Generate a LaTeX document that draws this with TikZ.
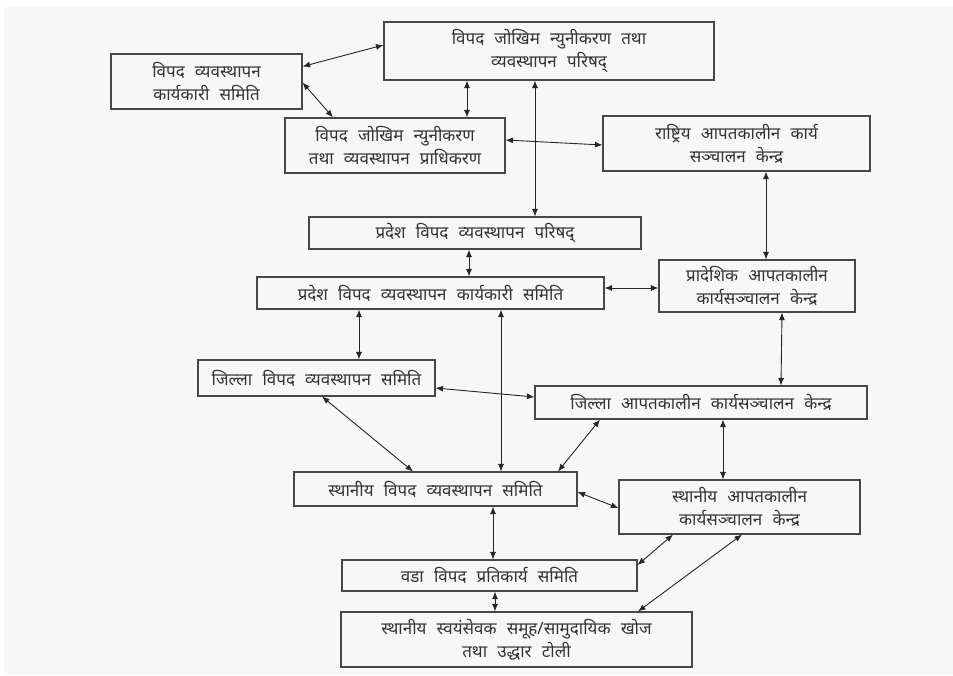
\documentclass[tikz,border=0pt]{standalone}
\usepackage{fontspec}
\newfontfamily\devfont[Script=Devanagari,WordSpace=2.3]{Noto Sans}
\usetikzlibrary{arrows.meta}
\definecolor{achter}{HTML}{F7F7F7}

\begin{document}
\begin{tikzpicture}[x=1pt,y=-1pt,
    blok/.style={draw=black!72,line width=1.1pt,text=black!80,align=center,inner sep=0pt,
      font=\devfont\fontsize{17}{23}\selectfont},
    pijl/.style={{Latex[length=7.5pt,width=6pt]}-{Latex[length=7.5pt,width=6pt]},line width=0.9pt,draw=black!85}]
    \fill[white] (0,0) rectangle (953,675);
    \fill[achter] (4,7) rectangle (953,675);
    % national level
    \node[blok,minimum width=330pt,minimum height=58pt] (parishad) at (549,51) {विपद जोखिम न्युनीकरण तथा\\व्यवस्थापन परिषद्};
    \node[blok,minimum width=191pt,minimum height=55pt] (karyakari) at (206.5,81.5) {विपद व्यवस्थापन\\कार्यकारी समिति};
    \node[blok,minimum width=220pt,minimum height=55pt] (pradhikaran) at (395,145.5) {विपद जोखिम न्युनीकरण\\तथा व्यवस्थापन प्राधिकरण};
    \node[blok,minimum width=267pt,minimum height=55pt] (neoc) at (736.5,143.5) {राष्ट्रिय आपतकालीन कार्य\\सञ्चालन केन्द्र};
    % province level
    \node[blok,minimum width=332pt,minimum height=32pt] (pparishad) at (475,233) {प्रदेश विपद व्यवस्थापन परिषद्};
    \node[blok,minimum width=347pt,minimum height=32pt] (psamiti) at (430.5,293) {प्रदेश विपद व्यवस्थापन कार्यकारी समिति};
    \node[blok,minimum width=196pt,minimum height=52pt] (peoc) at (757,286) {प्रादेशिक आपतकालीन\\कार्यसञ्चालन केन्द्र};
    % district level
    \node[blok,minimum width=237pt,minimum height=36pt] (jsamiti) at (316.5,378) {जिल्ला विपद व्यवस्थापन समिति};
    \node[blok,minimum width=332pt,minimum height=33pt] (deoc) at (701,402.5) {जिल्ला आपतकालीन कार्यसञ्चालन केन्द्र};
    % local level
    \node[blok,minimum width=283pt,minimum height=34pt] (ssamiti) at (435.5,489) {स्थानीय विपद व्यवस्थापन समिति};
    \node[blok,minimum width=241pt,minimum height=54pt] (leoc) at (739.5,507) {स्थानीय आपतकालीन\\कार्यसञ्चालन केन्द्र};
    \node[blok,minimum width=295pt,minimum height=31pt] (wsamiti) at (489.5,575.5) {वडा विपद प्रतिकार्य समिति};
    \node[blok,minimum width=351pt,minimum height=55pt] (toli) at (516.5,639.5) {स्थानीय स्वयंसेवक समूह/सामुदायिक खोज\\तथा उद्धार टोली};

    \draw[pijl] ([yshift=15pt]karyakari.east) -- ([yshift=6pt]parishad.west);
    \draw[pijl] ([yshift=-1pt]karyakari.east) -- ([xshift=-62pt]pradhikaran.north);
    \draw[pijl] ([xshift=-82pt]parishad.south) -- ([xshift=72pt]pradhikaran.north);
    \draw[pijl] ([xshift=-14pt]parishad.south) -- ([xshift=60pt]pparishad.north);
    \draw[pijl] ([yshift=5.5pt]pradhikaran.east) -- ([yshift=-1.5pt]neoc.west);
    \draw[pijl] ([xshift=29.5pt]neoc.south) -- ([xshift=9pt]peoc.north);
    \draw[pijl] ([xshift=-6pt]pparishad.south) -- ([xshift=38.5pt]psamiti.north);
    \draw[pijl] ([yshift=5pt]psamiti.east) -- ([yshift=-2pt]peoc.west);
    \draw[pijl] ([xshift=-71.5pt]psamiti.south) -- ([xshift=42.5pt]jsamiti.north);
    \draw[pijl] ([xshift=70.5pt]psamiti.south) -- ([xshift=65.5pt]ssamiti.north);
    \draw[pijl] ([xshift=25pt]peoc.south) -- ([xshift=80pt]deoc.north);
    \draw[pijl] ([yshift=-10pt]jsamiti.east) -- ([yshift=5.5pt]deoc.west);
    \draw[pijl] ([xshift=5.5pt]jsamiti.south) -- ([xshift=-22.5pt]ssamiti.north);
    \draw[pijl] ([xshift=-101pt]deoc.south) -- ([xshift=122.5pt]ssamiti.north);
    \draw[pijl] ([xshift=22pt]deoc.south) -- ([xshift=-16.5pt]leoc.north);
    \draw[pijl] ([yshift=-3pt]ssamiti.east) -- ([yshift=-1pt]leoc.west);
    \draw[pijl] ([xshift=57.5pt]ssamiti.south) -- ([xshift=3.5pt]wsamiti.north);
    \draw[pijl] ([xshift=-66.5pt]leoc.south) -- ([yshift=10.5pt]wsamiti.east);
    \draw[pijl] ([xshift=2.5pt]leoc.south) -- ([xshift=121.5pt]toli.north);
    \draw[pijl] ([xshift=5.5pt]wsamiti.south) -- ([xshift=-21.5pt]toli.north);
\end{tikzpicture}
\end{document}
